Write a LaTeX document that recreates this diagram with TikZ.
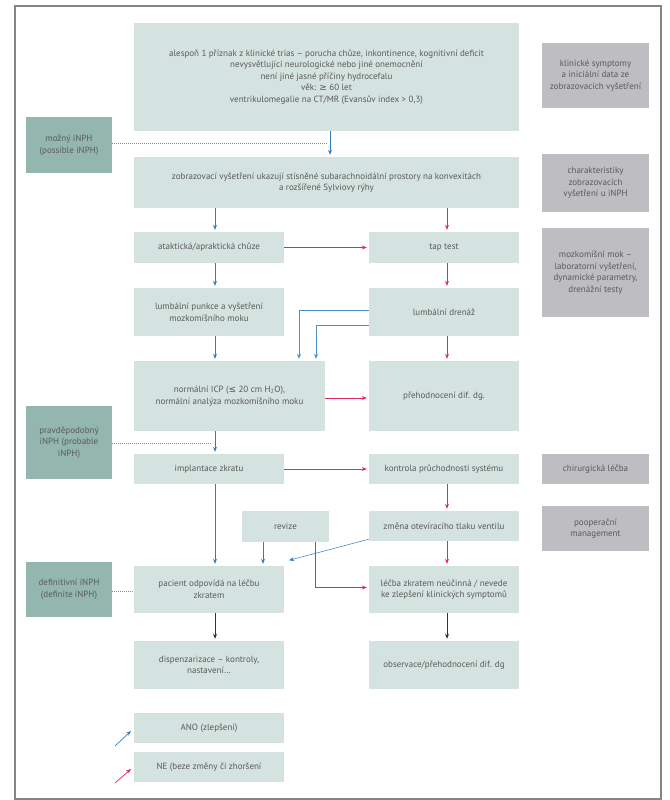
\documentclass[tikz,border=0pt]{standalone}
\usepackage{fontspec}
\setmainfont{PT Sans}
\newfontfamily\symfont{DejaVu Sans}
\usepackage{tikz}
\usetikzlibrary{arrows.meta}
\usepackage{xcolor}
\definecolor{boxfill}{HTML}{D4E3DF}
\definecolor{darkfill}{HTML}{93B6AE}
\definecolor{greyfill}{HTML}{BEBEC2}
\definecolor{txt}{HTML}{5A5A5A}
\definecolor{yesblue}{HTML}{2C7EC0}
\definecolor{nopink}{HTML}{E2266E}
\definecolor{framegrey}{HTML}{858585}

\begin{document}
\begin{tikzpicture}[x=1pt,y=-1pt]
    \useasboundingbox (0,0) rectangle (669,800);
    \draw[framegrey,line width=1.3pt] (15,6) rectangle (661,799);

    % columns of the vertical arrows
    \coordinate (lcol) at (215,0);
    \coordinate (rcol) at (447,0);
    \coordinate (topcol) at (330,0);
    \coordinate (revcol) at (263,0);
    \coordinate (revpink) at (315,0);
    \coordinate (drenA) at (299,0);
    \coordinate (drenB) at (316,0);

    \begin{scope}[every node/.style={rectangle,inner sep=0pt,align=center,text=txt,
        font=\fontsize{9}{11.6}\selectfont},
        flow/.style={fill=boxfill},
        level/.style={fill=darkfill},
        topic/.style={fill=greyfill}]
      \node[flow,minimum width=385,minimum height=108] (top) at (326.5,77)
        {alespoň 1 příznak z klinické trias – porucha chůze, inkontinence, kognitivní deficit\\
         nevysvětlující neurologické nebo jiné onemocnění\\
         není jiné jasné příčiny hydrocefalu\\
         věk: {\symfont ≥} 60 let\\
         ventrikulomegalie na CT/MR (Evansův index > 0,3)};
      \node[topic,minimum width=107,minimum height=65] (klin) at (595.5,75.5)
        {klinické symptomy\\ a iniciální data ze\\ zobrazovacích vyšetření};
      \node[level,minimum width=86,minimum height=56] (mozny) at (69,145)
        {možný iNPH\\ (possible iNPH)};
      \node[flow,minimum width=385,minimum height=51] (zobr) at (326.5,182.5)
        {zobrazovací vyšetření ukazují stísněné subarachnoidální prostory na konvexitách\\
         a rozšířené Sylviovy rýhy};
      \node[topic,minimum width=107,minimum height=58] (char) at (595.5,183)
        {charakteristiky\\ zobrazovacích\\ vyšetření u iNPH};
      \node[flow,minimum width=150,minimum height=31] (atak) at (209,247.5)
        {ataktická/apraktická chůze};
      \node[flow,minimum width=150,minimum height=31] (tap) at (444,247.5) {tap test};
      \node[topic,minimum width=107,minimum height=89] (mok) at (595.5,272.5)
        {mozkomíšní mok –\\ laboratorní vyšetření,\\ dynamické parametry,\\ drenážní testy};
      \node[flow,minimum width=150,minimum height=48] (punk) at (209,312)
        {lumbální punkce a vyšetření\\ mozkomíšního moku};
      \node[flow,minimum width=150,minimum height=48] (dren) at (444,312) {lumbální drenáž};
      \node[flow,minimum width=191,minimum height=70] (icp) at (229.5,396)
        {normální ICP ({\symfont ≤} 20 cm H\textsubscript{2}O),\\ normální analýza mozkomíšního moku};
      \node[flow,minimum width=150,minimum height=70] (preh) at (444,396) {přehodnocení dif. dg.};
      \node[level,minimum width=86,minimum height=73] (prav) at (69,442.5)
        {pravděpodobný\\ iNPH (probable\\ iNPH)};
      \node[flow,minimum width=150,minimum height=30] (impl) at (209,469) {implantace zkratu};
      \node[flow,minimum width=150,minimum height=30] (kontr) at (444,469)
        {kontrola průchodnosti systému};
      \node[topic,minimum width=107,minimum height=30] (chir) at (595.5,469) {chirurgická léčba};
      \node[flow,minimum width=87,minimum height=31] (rev) at (285.5,526.5) {revize};
      \node[flow,minimum width=150,minimum height=30] (zmena) at (444,526)
        {změna otevíracího tlaku ventilu};
      \node[topic,minimum width=107,minimum height=45] (poop) at (595.5,528.5)
        {pooperační\\ management};
      \node[level,minimum width=86,minimum height=55] (def) at (69,589.5)
        {definitivní iNPH\\ (definite iNPH)};
      \node[flow,minimum width=150,minimum height=47] (pac) at (209,589.5)
        {pacient odpovídá na léčbu\\ zkratem};
      \node[flow,minimum width=150,minimum height=47] (lecba) at (444,589.5)
        {léčba zkratem neúčinná / nevede\\ ke zlepšení klinických symptomů};
      \node[flow,minimum width=150,minimum height=48] (disp) at (209,665)
        {dispenzarizace – kontroly,\\ nastavení…};
      \node[flow,minimum width=150,minimum height=48] (obs) at (444,665)
        {observace/přehodnocení dif. dg};
      \node[flow,minimum width=150,minimum height=30] (ano) at (209,728) {ANO (zlepšení)};
      \node[flow,minimum width=150,minimum height=30] (ne) at (209,767)
        {NE (beze změny či zhoršení};
    \end{scope}

    % free ends of the legend arrows
    \coordinate (anoA) at (115,746);
    \coordinate (anoB) at (131,731);
    \coordinate (neA) at (115,783);
    \coordinate (neB) at (131,769);
    \coordinate (moznyend) at (328,143);
    \coordinate (pravend) at (212,443);

    \begin{scope}[>={Stealth[length=5pt,width=4pt]},line width=0.7pt,
        yes/.style={draw=yesblue,->,shorten >=2pt},
        no/.style={draw=nopink,->,shorten >=2pt},
        plain/.style={draw=black!80,->,shorten >=2pt},
        level link/.style={draw=black!45,line width=0.5pt,dash pattern=on 1pt off 1pt}]
      \draw[level link] (mozny.east |- moznyend) -- (moznyend);
      \draw[level link] (prav.east |- pravend) -- (pravend);
      \draw[level link] (def.east |- 0,591) -- (pac.west |- 0,591);

      \draw[yes] (top.south -| topcol) -- (zobr.north -| topcol);
      \draw[yes] (zobr.south -| lcol) -- (atak.north -| lcol);
      \draw[no] (zobr.south -| rcol) -- (tap.north -| rcol);
      \draw[no] (atak.east) -- (tap.west);
      \draw[yes] (atak.south -| lcol) -- (punk.north -| lcol);
      \draw[no] (tap.south -| rcol) -- (dren.north -| rcol);
      \draw[yes] (punk.south -| lcol) -- (icp.north -| lcol);
      \draw[yes,draw=yesblue!85] ([yshift=2pt]dren.west) -| (icp.north -| drenA);
      \draw[yes,draw=yesblue!85] ([yshift=-13pt]dren.west) -| (icp.north -| drenB);
      \draw[no] (dren.south -| rcol) -- (preh.north -| rcol);
      \draw[no] ([yshift=-2pt]icp.east) -- ([yshift=-2pt]preh.west);
      \draw[yes] (icp.south -| lcol) -- (impl.north -| lcol);
      \draw[no] (impl.east) -- (kontr.west);
      \draw[yes] (impl.south -| lcol) -- (pac.north -| lcol);
      \draw[no] (kontr.south -| rcol) -- (zmena.north -| rcol);
      \draw[yes] (rev.south -| revcol) -- (pac.north -| revcol);
      \draw[no] (rev.south -| revpink) |- ([yshift=2pt]lecba.west);
      \draw[yes,line width=0.5pt] ([yshift=2pt]zmena.south west) -- ([xshift=3pt,yshift=5pt]pac.north east);
      \draw[no] (zmena.south -| rcol) -- (lecba.north -| rcol);
      \draw[plain] (pac.south -| lcol) -- (disp.north -| lcol);
      \draw[plain] (lecba.south -| rcol) -- (obs.north -| rcol);

      \draw[yes,shorten >=0pt] (anoA) -- (anoB);
      \draw[no,shorten >=0pt] (neA) -- (neB);
    \end{scope}
\end{tikzpicture}
\end{document}
